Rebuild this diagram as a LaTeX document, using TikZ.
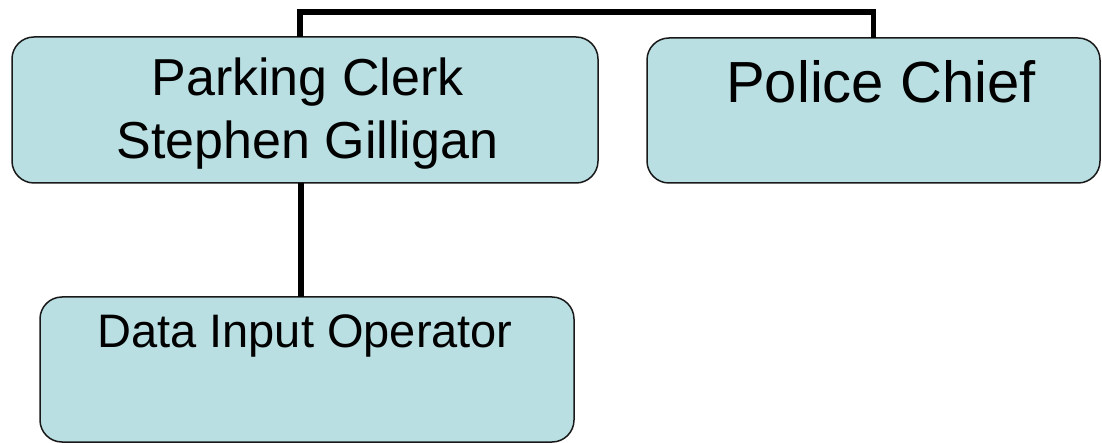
\documentclass[tikz,border=0pt]{standalone}
\usepackage{fontspec}
\setmainfont{Liberation Sans}
\definecolor{boxfill}{RGB}{185,223,227}
\definecolor{boxline}{RGB}{25,25,25}
\begin{document}
\begin{tikzpicture}[x=1pt,y=-1pt,
  orgbox/.style={draw=boxline,line width=1.5pt,fill=boxfill,rounded corners=22pt,
    inner sep=0pt,outer sep=0pt},
  conn/.style={line width=5.5pt,black},
  lbl/.style={inner sep=0pt,anchor=north,align=center}]
\useasboundingbox (0,0) rectangle (1102,443);
\node[orgbox,minimum width=586pt,minimum height=146pt] (park) at (305,110) {};
\node[orgbox,minimum width=453pt,minimum height=145pt] (police) at (873.5,110.5) {};
\node[orgbox,minimum width=534pt,minimum height=145pt] (data) at (307,369.5) {};
\node[lbl,font=\fontsize{52}{63}\selectfont] (parktext) at (307.5,57.7) {Parking Clerk\\Stephen Gilligan};
\node[lbl,font=\fontsize{58}{68}\selectfont] (policetext) at (881,60.5) {Police Chief};
\node[lbl,font=\fontsize{47}{56}\selectfont] (datatext) at (305,314.4) {Data Input Operator};
\draw[conn] ([xshift=-5pt]park.north) -- ++(0,-25) -| (police.north);
\draw[conn] ([xshift=-4pt]park.south) -- ([xshift=-6pt]data.north);
\end{tikzpicture}
\end{document}
